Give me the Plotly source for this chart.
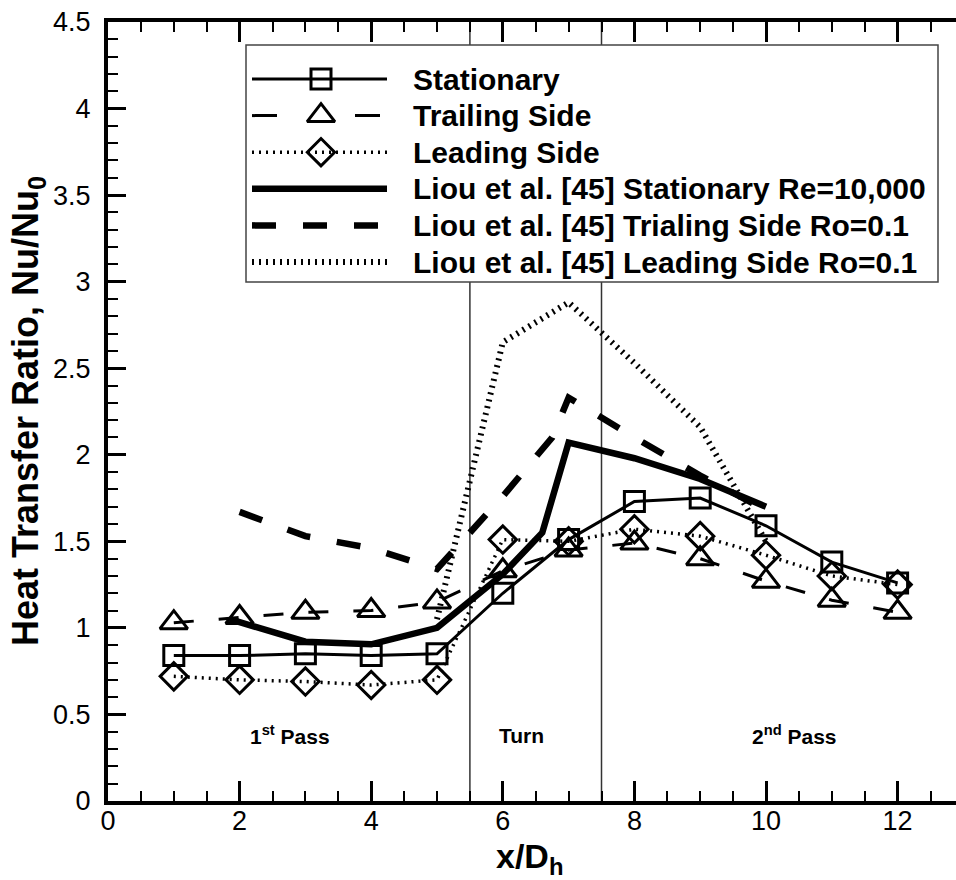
import plotly.graph_objects as go

# ---- measured heat transfer ratio along the two-pass channel ----
x_pos = [1, 2, 3, 4, 5, 6, 7, 8, 9, 10, 11, 12]
stationary = [0.84, 0.84, 0.85, 0.84, 0.85, 1.20, 1.51, 1.73, 1.75, 1.59, 1.38, 1.26]
trailing = [1.03, 1.06, 1.09, 1.10, 1.15, 1.33, 1.45, 1.49, 1.40, 1.27, 1.16, 1.09]
leading = [0.72, 0.70, 0.69, 0.67, 0.70, 1.51, 1.50, 1.57, 1.53, 1.42, 1.30, 1.25]

# ---- Liou et al. [45] reference curves ----
liou_stat_x = [1.85, 3, 4, 5, 6, 6.6, 7, 8, 9, 10]
liou_stat_y = [1.05, 0.92, 0.905, 1.00, 1.31, 1.55, 2.07, 1.98, 1.86, 1.70]
liou_trail_x = [2, 3, 4, 5, 6, 6.75, 7, 7.5, 8, 9, 10]
liou_trail_y = [1.67, 1.53, 1.46, 1.34, 1.76, 2.10, 2.33, 2.21, 2.10, 1.88, 1.68]
liou_lead_x = [5, 6, 7, 8, 9, 10]
liou_lead_y = [1.05, 2.65, 2.88, 2.53, 2.16, 1.50]

# region boundaries and labels
boundaries = [5.5, 7.5]
region_x = [2.77, 6.28, 10.43]
region_y = [0.38, 0.38, 0.38]
region_text = ["1<sup>st</sup> Pass", "Turn", "2<sup>nd</sup> Pass"]

legend_labels = [
    "Stationary",
    "Trailing Side",
    "Leading Side",
    "Liou et al. [45] Stationary Re=10,000",
    "Liou et al. [45] Trialing Side Ro=0.1",
    "Liou et al. [45] Leading Side Ro=0.1",
]

FONT = "Liberation Sans, Arial, sans-serif"
BLACK = "black"

styles = [
    dict(line=dict(color=BLACK, width=3, dash="solid"),
         marker=dict(symbol="square-open", size=20, line=dict(width=3, color=BLACK), color=BLACK)),
    dict(line=dict(color=BLACK, width=3, dash="20px,25px"),
         marker=dict(symbol="triangle-up-open", size=24, line=dict(width=3, color=BLACK), color=BLACK)),
    dict(line=dict(color=BLACK, width=3.5, dash="2px,5px"),
         marker=dict(symbol="diamond-open", size=21, line=dict(width=3, color=BLACK), color=BLACK)),
    dict(line=dict(color=BLACK, width=6.5, dash="solid")),
    dict(line=dict(color=BLACK, width=6.5, dash="24px,27px")),
    dict(line=dict(color=BLACK, width=6, dash="2px,5px")),
]

fig = go.Figure()

series = [
    (x_pos, stationary, "lines+markers"),
    (x_pos, trailing, "lines+markers"),
    (x_pos, leading, "lines+markers"),
    (liou_stat_x, liou_stat_y, "lines"),
    (liou_trail_x, liou_trail_y, "lines"),
    (liou_lead_x, liou_lead_y, "lines"),
]
# reference curves underneath, measured data on top
for i in [3, 4, 5, 0, 1, 2]:
    xs, ys, mode = series[i]
    fig.add_trace(go.Scatter(x=xs, y=ys, mode=mode, name=legend_labels[i],
                             showlegend=False, **styles[i]))

# empty trace so the label-only x axis gets drawn
fig.add_trace(go.Scatter(x=[], y=[], xaxis="x3", yaxis="y", mode="lines",
                         showlegend=False, hoverinfo="skip"))

# ---- legend drawn in its own small subplot (units: pixels inside the box) ----
box_w, box_h = 692, 237
row_top, row_step = 203, 36.6
sample_x = [6, 75, 141]
text_x = 165
for i, lab in enumerate(legend_labels):
    ry = row_top - i * row_step
    st = dict(styles[i])
    ln = dict(st["line"])
    if i == 1:
        ln["dash"] = "25px,78px"
    if "marker" in st:
        mk = dict(st["marker"])
        mk["opacity"] = [0, 1, 0]
        fig.add_trace(go.Scatter(x=sample_x, y=[ry] * 3, mode="lines+markers",
                                 line=ln, marker=mk, xaxis="x2", yaxis="y2",
                                 showlegend=False, hoverinfo="skip"))
    else:
        fig.add_trace(go.Scatter(x=[sample_x[0], sample_x[-1]], y=[ry] * 2, mode="lines",
                                 line=ln, xaxis="x2", yaxis="y2",
                                 showlegend=False, hoverinfo="skip"))
    fig.add_annotation(x=text_x, y=ry, xref="x2", yref="y2", text=lab,
                       showarrow=False, xanchor="left", yanchor="middle",
                       font=dict(family=FONT, size=30, color=BLACK, weight="bold"))

# region separators (full height) and the white legend box covering them
shapes = []
for b in boundaries:
    shapes.append(dict(type="line", xref="x", yref="paper", x0=b, x1=b, y0=0, y1=1,
                       line=dict(color="#333333", width=1.5), layer="below"))
leg_x0, leg_x1 = 138 / 848, 830 / 848
leg_y0, leg_y1 = (801 - 282) / 779, (801 - 45) / 779
shapes.append(dict(type="rect", xref="paper", yref="paper", x0=leg_x0, x1=leg_x1,
                   y0=leg_y0, y1=leg_y1, fillcolor="white",
                   line=dict(color="#444444", width=1.5), layer="below"))

for rx, ry, rt in zip(region_x, region_y, region_text):
    fig.add_annotation(x=rx, y=ry, text=rt, showarrow=False, xanchor="center",
                       yanchor="middle",
                       font=dict(family=FONT, size=21, color=BLACK, weight="bold"))

# axis titles
fig.add_annotation(x=0.4976, y=(801 - 858) / 779, xref="paper", yref="paper",
                   text="x/D<sub>h</sub>", showarrow=False, xanchor="center", yanchor="middle",
                   font=dict(family=FONT, size=34, color=BLACK, weight="bold"))
fig.add_annotation(x=(28 - 108) / 848, y=0.5006, xref="paper", yref="paper",
                   text="Heat Transfer Ratio, Nu/Nu<sub>0</sub>", showarrow=False,
                   textangle=-90, xanchor="center", yanchor="middle",
                   font=dict(family=FONT, size=36, color=BLACK, weight="bold"))

x_range = [0, 848 / 65.8]
tickfont = dict(family=FONT, size=27, color=BLACK)
fig.update_layout(
    width=956, height=880,
    margin=dict(l=108, r=0, t=22, b=79, pad=0),
    paper_bgcolor="white",
    plot_bgcolor="rgba(0,0,0,0)",
    shapes=shapes,
    xaxis=dict(range=x_range, tick0=0, dtick=2, ticks="inside", ticklen=20,
               tickwidth=3, tickcolor=BLACK, showline=True, linewidth=4, linecolor=BLACK,
               mirror="ticks", showgrid=False, zeroline=False, showticklabels=False,
               minor=dict(dtick=0.5, ticks="inside", ticklen=10, tickwidth=2,
                          tickcolor=BLACK, showgrid=False)),
    # tick labels for the x axis, placed close under the axis line
    xaxis3=dict(range=x_range, tick0=0, dtick=2, ticks="", showline=False,
                overlaying="x", side="bottom", anchor="free", position=0,
                showgrid=False, zeroline=False, tickfont=tickfont, ticklabelstandoff=1),
    yaxis=dict(range=[0, 4.5], tick0=0, dtick=0.5, ticks="inside", ticklen=18,
               tickwidth=3, tickcolor=BLACK, showline=True, linewidth=4, linecolor=BLACK,
               mirror=False, showgrid=False, zeroline=False, tickfont=tickfont,
               ticklabelstandoff=8,
               minor=dict(dtick=0.1, ticks="inside", ticklen=10, tickwidth=2,
                          tickcolor=BLACK, showgrid=False)),
    yaxis3=dict(range=[0, 4.5], tick0=0, dtick=0.5, ticks="inside", ticklen=18,
                tickwidth=3, tickcolor=BLACK, showline=False, showticklabels=False,
                overlaying="y", side="right", anchor="free", position=1,
                showgrid=False, zeroline=False,
                minor=dict(dtick=0.1, ticks="inside", ticklen=10, tickwidth=2,
                           tickcolor=BLACK, showgrid=False)),
    xaxis2=dict(domain=[leg_x0, leg_x1], range=[0, box_w], visible=False,
                anchor="y2", fixedrange=True),
    yaxis2=dict(domain=[leg_y0, leg_y1], range=[0, box_h], visible=False,
                anchor="x2", fixedrange=True),
    showlegend=False,
)

fig.write_html("out.html")
